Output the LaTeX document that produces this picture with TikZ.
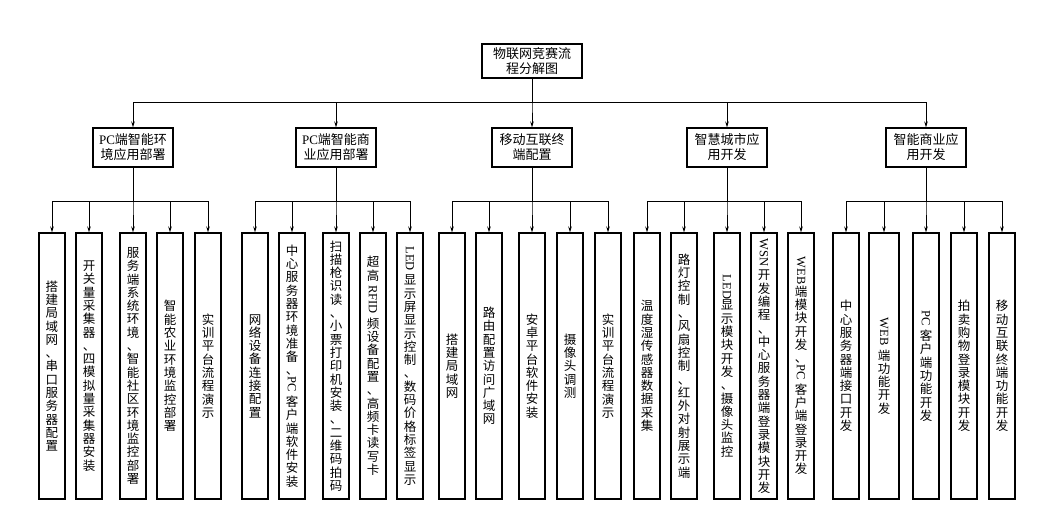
\documentclass[tikz,border=0pt]{standalone}
\usepackage{fontspec}
\usepackage{graphicx}
\newfontfamily\cjk{Noto Sans CJK SC}
\newfontfamily\lat{Liberation Serif}
\usetikzlibrary{arrows.meta}
\makeatletter
\newcommand\vgap{}
\def\vgap@mark{\vgap}
\newcommand\vstk[1]{\vbox{\baselineskip=13.3pt\lineskiplimit=0pt\lineskip=1pt
  \@tfor\vt@x:=#1\do{\ifx\vt@x\vgap@mark\vskip3pt\else\hbox to 14pt{\hss\vt@x\hss}\fi}}}
\newcommand\rl[1]{\rotatebox[origin=c]{-90}{\lat #1}}
\makeatother
\tikzset{
  box/.style={draw, line width=1.1pt, inner sep=0pt, align=center,
    font=\cjk\fontsize{13}{15}\selectfont},
  topbox/.style={box, minimum width=100pt, minimum height=34pt},
  midbox/.style={box, minimum width=80pt, minimum height=39pt},
  leaf/.style={draw, line width=1.1pt, inner sep=0pt, minimum width=26pt,
    minimum height=266pt, font=\cjk\fontsize{12.5}{13.3}\selectfont},
  conn/.style={line width=0.9pt},
  arr/.style={conn, -{Stealth[length=6pt,width=3.5pt]}},
}
\begin{document}
\begin{tikzpicture}[x=1pt,y=-1pt]
\useasboundingbox (0,0) rectangle (1037,506);
\fill[white] (0,0) rectangle (1037,506);
\coordinate (tb) at (0,102);
\coordinate (lb) at (0,201.5);
% root
\node[topbox] (root) at (532,61) {物联网竞赛流\\程分解图};
% level 2
\node[midbox] (m1) at (133,147.5) {{\lat PC}端智能环\\境应用部署};
\node[midbox] (m2) at (336,147.5) {{\lat PC}端智能商\\业应用部署};
\node[midbox] (m3) at (532,147.5) {移动互联终\\端配置};
\node[midbox] (m4) at (727,147.5) {智慧城市应\\用开发};
\node[midbox] (m5) at (926,147.5) {智能商业应\\用开发};
% leaves group 1
\node[leaf] (g1a) at (52,366) {\vstk{搭建局域网、串口服务器配置}};
\node[leaf] (g1b) at (89,366) {\vstk{开关量采集器、四模拟量采集器安装}};
\node[leaf] (g1c) at (133,366) {\vstk{服务端系统环境、智能社区环境监控部署}};
\node[leaf] (g1d) at (170,366) {\vstk{智能农业环境监控部署}};
\node[leaf] (g1e) at (208,366) {\vstk{实训平台流程演示}};
% group 2
\node[leaf] (g2a) at (255,366) {\vstk{网络设备连接配置}};
\node[leaf] (g2b) at (292,366) {\vstk{中心服务器环境准备、{\rl{PC}}\vgap 客户端软件安装}};
\node[leaf] (g2c) at (336,366) {\vstk{扫描枪识读、小票打印机安装、二维码拍码}};
\node[leaf] (g2d) at (373,366) {\vstk{超高\vgap{\rl{RFID}}\vgap 频设备配置、高频卡读写卡}};
\node[leaf] (g2e) at (410,366) {\vstk{{\rl{LED}}\vgap 显示屏显示控制、数码价格标签显示}};
% group 3
\node[leaf] (g3a) at (452,366) {\vstk{搭建局域网}};
\node[leaf] (g3b) at (489,366) {\vstk{路由配置访问广域网}};
\node[leaf] (g3c) at (532,366) {\vstk{安卓平台软件安装}};
\node[leaf] (g3d) at (570,366) {\vstk{摄像头调测}};
\node[leaf] (g3e) at (608,366) {\vstk{实训平台流程演示}};
% group 4
\node[leaf] (g4a) at (647,366) {\vstk{温度湿传感器数据采集}};
\node[leaf] (g4b) at (684,366) {\vstk{路灯控制、风扇控制、红外对射展示端}};
\node[leaf] (g4c) at (727,366) {\vstk{{\rl{LED}}显示模块开发、摄像头监控}};
\node[leaf] (g4d) at (764,366) {\vstk{{\rl{WSN}}\vgap 开发编程、中心服务器端登录模块开发}};
\node[leaf] (g4e) at (801,366) {\vstk{{\rl{WEB}}端模块开发、{\rl{PC}}\vgap 客户端登录开发}};
% group 5
\node[leaf] (g5a) at (846,366) {\vstk{中心服务器端接口开发}};
\node[leaf,minimum width=30pt] (g5b) at (884,366) {\vstk{{\rl{WEB}}\vgap 端功能开发}};
\node[leaf] (g5c) at (926,366) {\vstk{{\rl{PC}}\vgap 客户端功能开发}};
\node[leaf] (g5d) at (964,366) {\vstk{拍卖购物登录模块开发}};
\node[leaf] (g5e) at (1002,366) {\vstk{移动互联终端功能开发}};
% connectors root -> level 2
\foreach \m in {m1,m2,m3,m4,m5}
  \draw[arr] (root.south) |- (\m.north |- tb) -- (\m.north);
% connectors level 2 -> leaves
\foreach \g/\m in {1/m1,2/m2,3/m3,4/m4,5/m5}
  \foreach \l in {a,b,c,d,e}
    \draw[arr] (\m.south) |- (g\g\l.north |- lb) -- (g\g\l.north);
\end{tikzpicture}
\end{document}
